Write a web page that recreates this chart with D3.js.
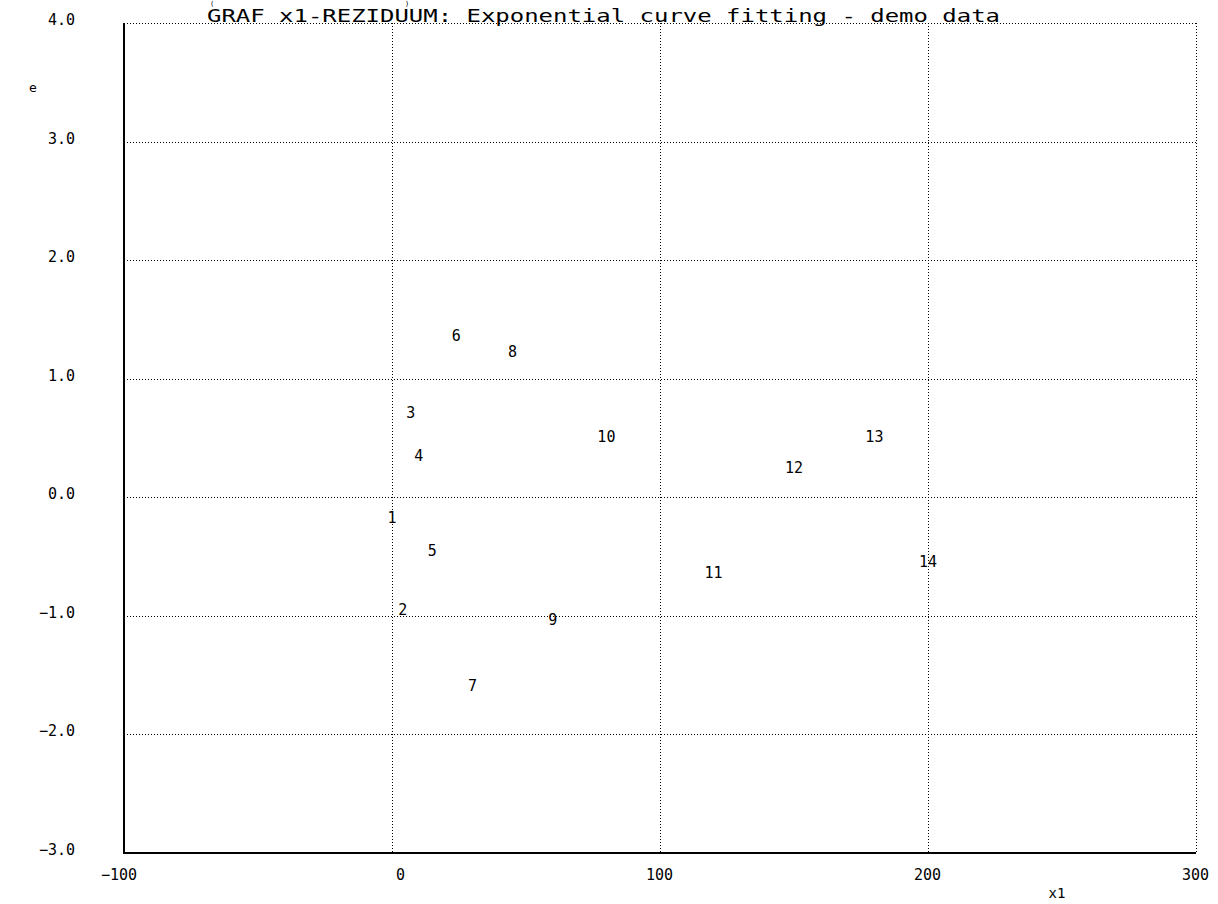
<!DOCTYPE html>
<html>
<head>
<meta charset="utf-8">
<script src="https://cdn.jsdelivr.net/npm/d3@7"></script>
<style>
  html, body { margin: 0; padding: 0; background: #fff; }
  svg { display: block; }
  text { fill: #000; }
</style>
</head>
<body>
<svg id="chart" width="1218" height="904"></svg>
<script>
// Residuals of the exponential fit plotted against x1; each point is drawn as its case number
const caseIds = [1, 2, 3, 4, 5, 6, 7, 8, 9, 10, 11, 12, 13, 14];
const x1Values = [0, 4, 7, 10, 15, 24, 30, 45, 60, 80, 120, 150, 180, 200];
const residuals = [-0.17, -0.95, 0.71, 0.35, -0.45, 1.36, -1.59, 1.23, -1.03, 0.51, -0.64, 0.25, 0.51, -0.54];

const xTicks = [-100, 0, 100, 200, 300];
const yTicks = [-3, -2, -1, 0, 1, 2, 3, 4];

const titleText = "GRAF x1-REZIDUUM: Exponential curve fitting - demo data";
const xLabel = "x1";
const yLabel = "e";

const svg = d3.select("#chart");
const mono = "'DejaVu Sans Mono', 'Liberation Mono', monospace";

const x = d3.scaleLinear().domain([-100, 300]).range([124, 1196]);
const y = d3.scaleLinear().domain([-3, 4]).range([853, 23]);

const [x0, x1] = x.range();
const [yB, yT] = y.range();

// dotted grid, including the top and right frame
const grid = svg.append("g")
  .attr("stroke", "#000")
  .attr("stroke-width", 1)
  .attr("stroke-dasharray", "1,2")
  .attr("shape-rendering", "crispEdges");

grid.selectAll("line.v")
  .data(xTicks.filter(d => d !== -100))
  .join("line")
  .attr("x1", d => Math.round(x(d)) + 0.5)
  .attr("x2", d => Math.round(x(d)) + 0.5)
  .attr("y1", yT)
  .attr("y2", yB);

grid.selectAll("line.h")
  .data(yTicks.filter(d => d !== -3))
  .join("line")
  .attr("y1", d => Math.round(y(d)) + 0.5)
  .attr("y2", d => Math.round(y(d)) + 0.5)
  .attr("x1", x0)
  .attr("x2", x1);

// solid left and bottom axes
const axes = svg.append("g")
  .attr("stroke", "#000")
  .attr("stroke-width", 2)
  .attr("shape-rendering", "crispEdges");
axes.append("line").attr("x1", x0).attr("x2", x0).attr("y1", yT).attr("y2", yB + 1);
axes.append("line").attr("x1", x0).attr("x2", x1).attr("y1", yB).attr("y2", yB);

// tick labels
svg.append("g")
  .selectAll("text")
  .data(xTicks)
  .join("text")
  .attr("x", d => x(d) + 13)
  .attr("y", 880)
  .attr("text-anchor", "end")
  .attr("font-family", mono)
  .attr("font-size", 15)
  .text(d => d3.format("d")(d).replace("-", "\u2212"));

svg.append("g")
  .selectAll("text")
  .data(yTicks)
  .join("text")
  .attr("x", 75)
  .attr("y", d => y(d) + 2)
  .attr("text-anchor", "end")
  .attr("font-family", mono)
  .attr("font-size", 15)
  .text(d => d3.format(".1f")(d).replace("-", "\u2212"));

// axis titles
svg.append("text")
  .attr("x", 33).attr("y", 92)
  .attr("text-anchor", "middle")
  .attr("font-family", mono)
  .attr("font-size", 13)
  .text(yLabel);

svg.append("text")
  .attr("x", 1057).attr("y", 898)
  .attr("text-anchor", "middle")
  .attr("font-family", mono)
  .attr("font-size", 14)
  .text(xLabel);

// chart title over the top frame, with the small brackets above it
svg.append("text").attr("x", 210).attr("y", 6).attr("font-family", mono).attr("font-size", 7).text("(");
svg.append("text").attr("x", 405).attr("y", 6).attr("font-family", mono).attr("font-size", 7).text(")");
svg.append("text")
  .attr("x", 207).attr("y", 22)
  .attr("font-family", mono)
  .attr("font-size", 17)
  .attr("textLength", 793)
  .attr("lengthAdjust", "spacingAndGlyphs")
  .text(titleText);

// points drawn as their case numbers
svg.append("g")
  .selectAll("text")
  .data(caseIds.map((id, i) => ({ id, xv: x1Values[i], e: residuals[i] })))
  .join("text")
  .attr("x", d => x(d.xv))
  .attr("y", d => y(d.e))
  .attr("dy", "0.35em")
  .attr("text-anchor", "middle")
  .attr("font-family", mono)
  .attr("font-size", 15)
  .text(d => d.id);
</script>
</body>
</html>
